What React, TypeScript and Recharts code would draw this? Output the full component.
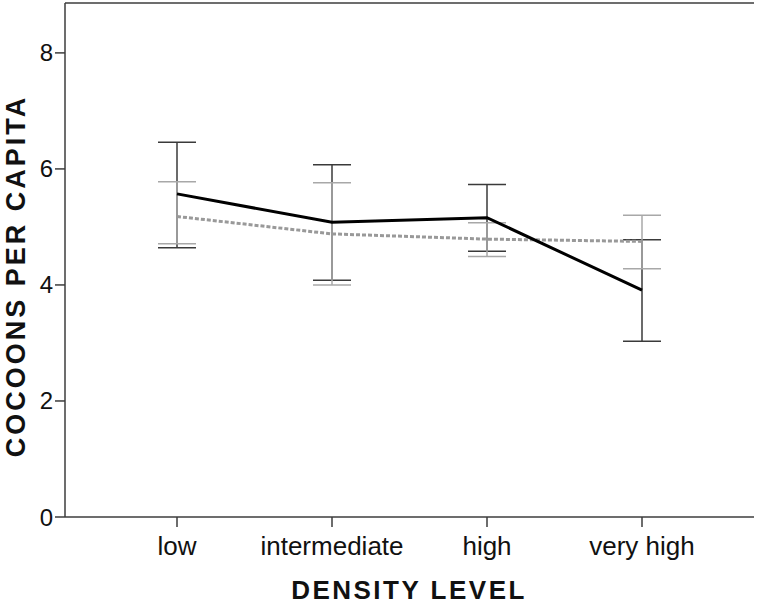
import React from 'react';
import { LineChart, Line, XAxis, YAxis, ErrorBar, Label } from 'recharts';

const levels = ['low', 'intermediate', 'high', 'very high'];

// solid black series
const meanA = [5.57, 5.08, 5.16, 3.91];
const lowA = [4.64, 4.08, 4.58, 3.03];
const highA = [6.46, 6.07, 5.73, 4.78];

// dotted grey series
const meanB = [5.18, 4.88, 4.79, 4.75];
const lowB = [4.71, 4.0, 4.49, 4.28];
const highB = [5.78, 5.76, 5.07, 5.2];

const yTicks = [0, 2, 4, 6, 8];

const rows = levels.map((level, i) => ({
  level,
  a: meanA[i],
  b: meanB[i],
  errA: [meanA[i] - lowA[i], highA[i] - meanA[i]],
  errB: [meanB[i] - lowB[i], highB[i] - meanB[i]],
}));

const FONT = 'Arial, "Liberation Sans", Helvetica, sans-serif';
const AXIS = '#3c3c3c';

export default function App() {
  return (
    <div style={{ position: 'absolute', left: 0, top: 0, width: 760, height: 604, background: '#fff' }}>
      <LineChart width={760} height={604} data={rows} margin={{ top: 2, right: 6, left: 0, bottom: 0 }}>
        <XAxis
          dataKey="level"
          height={87}
          padding={{ left: 112, right: 112 }}
          stroke={AXIS}
          strokeWidth={1.5}
          tickSize={10}
          tickMargin={10}
          tick={{ fill: '#111', fontSize: 26, fontFamily: FONT }}
        >
          <Label
            content={() => (
              <text
                x={409}
                y={599}
                textAnchor="middle"
                fontFamily={FONT}
                fontWeight="bold"
                fontSize={26}
                letterSpacing={2.5}
                fill="#111"
              >
                DENSITY LEVEL
              </text>
            )}
          />
        </XAxis>
        <XAxis
          xAxisId="top"
          orientation="top"
          dataKey="level"
          height={1}
          tick={false}
          tickLine={false}
          stroke={AXIS}
          strokeWidth={1.5}
          padding={{ left: 112, right: 112 }}
        />
        <YAxis
          domain={[0, 8.86]}
          ticks={yTicks}
          width={65}
          stroke={AXIS}
          strokeWidth={1.5}
          tickSize={10}
          tickMargin={2}
          allowDataOverflow
          tick={{ fill: '#111', fontSize: 24, fontFamily: FONT }}
        >
          <Label
            content={() => (
              <text
                x={0}
                y={0}
                transform="translate(25 276) rotate(-90)"
                textAnchor="middle"
                fontFamily={FONT}
                fontWeight="bold"
                fontSize={27}
                letterSpacing={3}
                fill="#111"
              >
                COCOONS PER CAPITA
              </text>
            )}
          />
        </YAxis>
        <YAxis
          yAxisId="right"
          orientation="right"
          width={0}
          tick={false}
          tickLine={false}
          stroke={AXIS}
          strokeWidth={1.5}
          domain={[0, 8.86]}
        />

        {/* error bars first so the means sit on top */}
        <Line dataKey="a" stroke="none" dot={false} activeDot={false} isAnimationActive={false}>
          <ErrorBar dataKey="errA" width={19} stroke="#3a3a3a" strokeWidth={1.5} />
        </Line>
        <Line dataKey="b" stroke="none" dot={false} activeDot={false} isAnimationActive={false}>
          <ErrorBar dataKey="errB" width={19} stroke="#a8a8a8" strokeWidth={1.5} />
        </Line>

        <Line dataKey="b" stroke="#999" strokeWidth={3} strokeDasharray="4 2" dot={false} isAnimationActive={false} />
        <Line dataKey="a" stroke="#000" strokeWidth={3} dot={false} isAnimationActive={false} />
      </LineChart>
    </div>
  );
}
